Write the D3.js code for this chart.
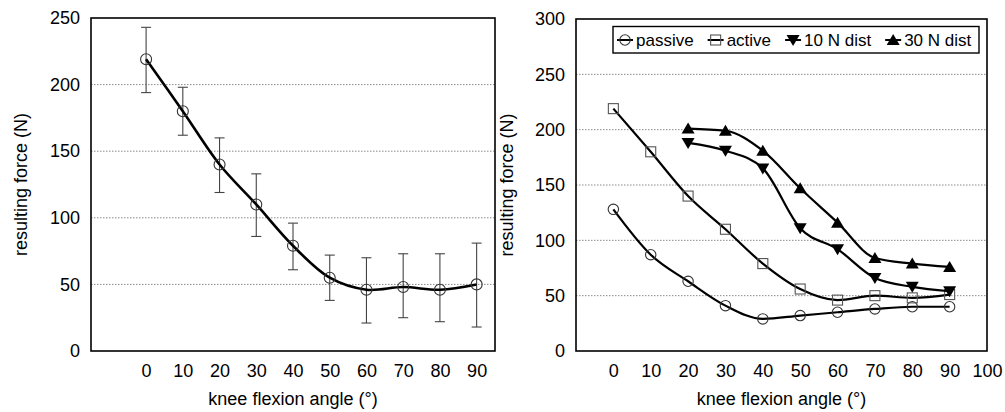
<!DOCTYPE html>
<html><head><meta charset="utf-8">
<script src="https://cdn.jsdelivr.net/npm/d3@7"></script>
<style>
body{margin:0;background:#fff;}
text{font-family:"Liberation Sans",Arial,sans-serif;fill:#000;}
</style></head>
<body>
<svg id="c" width="1005" height="412"></svg>
<script>
// ---- data ----
const angles = [0,10,20,30,40,50,60,70,80,90];
const meanForce = [219,180,140,110,79,55,46,48,46,50];
const errUpper = [243,198,160,133,96,72,70,73,73,81];
const errLower = [194,162,119,86,61,38,21,25,22,18];
const passive = [128,87,63,41,29,32,35,38,40,40];
const active = [219,180,140,110,79,56,46,50,48,51];
const distAngles = [20,30,40,50,60,70,80,90];
const dist10 = [188,181,165,111,92,66,58,54];
const dist30 = [201,199,181,147,116,84,79,76];
const leftYTicks = [0,50,100,150,200,250];
const rightYTicks = [0,50,100,150,200,250,300];
const rightXTicks = [0,10,20,30,40,50,60,70,80,90,100];
const legendLabels = ["passive","active","10 N dist","30 N dist"];
const yTitle = "resulting force (N)";
const xTitle = "knee flexion angle (°)";

const svg = d3.select("#c");
const FS = 18;

function panel(g, x, y, yTicks, xTicks) {
  const [x0,x1] = x.range(), [y0,y1] = y.range();
  g.append("g").selectAll("line").data(yTicks.slice(1,-1)).join("line")
    .attr("x1",x0).attr("x2",x1).attr("y1",d=>y(d)).attr("y2",d=>y(d))
    .attr("stroke","#8a8a8a").attr("stroke-width",1).attr("stroke-dasharray","1.5,1.5");
  const ya = g.append("g").attr("transform",`translate(${x0},0)`)
    .call(d3.axisLeft(y).tickValues(yTicks).tickSize(0).tickPadding(11));
  ya.select(".domain").remove();
  ya.selectAll("text").attr("font-size",FS).attr("font-family","Liberation Sans, Arial, sans-serif").attr("fill","#000");
  const xa = g.append("g").attr("transform",`translate(0,${y0})`)
    .call(d3.axisBottom(x).tickValues(xTicks).tickSize(0).tickPadding(13));
  xa.select(".domain").remove();
  xa.selectAll("text").attr("font-size",FS).attr("font-family","Liberation Sans, Arial, sans-serif").attr("fill","#000");
  g.append("rect").attr("x",x0).attr("y",y1).attr("width",x1-x0).attr("height",y0-y1)
    .attr("fill","none").attr("stroke","#000").attr("stroke-width",1.6);
  g.append("text").attr("x",(x0+x1)/2).attr("y",405).attr("text-anchor","middle")
    .attr("font-size",FS).text(xTitle);
}

// ---- left chart ----
const xL = d3.scaleLinear().domain([-15,95]).range([91,495]);
const yL = d3.scaleLinear().domain([0,250]).range([351,18]);
const gL = svg.append("g");
panel(gL, xL, yL, leftYTicks, angles);
gL.append("text").attr("transform",`translate(21,${(18+351)/2}) rotate(-90)`)
  .attr("text-anchor","middle").attr("dominant-baseline","central").attr("font-size",FS).text(yTitle);
const eb = gL.append("g").attr("stroke","#444").attr("stroke-width",1.1);
angles.forEach((a,i)=>{
  const cx = xL(a);
  eb.append("line").attr("x1",cx).attr("x2",cx).attr("y1",yL(errUpper[i])).attr("y2",yL(errLower[i]));
  eb.append("line").attr("x1",cx-5).attr("x2",cx+5).attr("y1",yL(errUpper[i])).attr("y2",yL(errUpper[i]));
  eb.append("line").attr("x1",cx-5).attr("x2",cx+5).attr("y1",yL(errLower[i])).attr("y2",yL(errLower[i]));
});
gL.append("path").datum(angles.map((a,i)=>[a,meanForce[i]]))
  .attr("d",d3.line().x(d=>xL(d[0])).y(d=>yL(d[1])).curve(d3.curveCatmullRom.alpha(0.5)))
  .attr("fill","none").attr("stroke","#000").attr("stroke-width",2.6);
gL.append("g").selectAll("circle").data(angles).join("circle")
  .attr("cx",d=>xL(d)).attr("cy",(d,i)=>yL(meanForce[i])).attr("r",5.5)
  .attr("fill","none").attr("stroke","#333").attr("stroke-width",1.1);

// ---- right chart ----
const xR = d3.scaleLinear().domain([-10,100]).range([576,987]);
const yR = d3.scaleLinear().domain([0,300]).range([351,19]);
const gR = svg.append("g");
panel(gR, xR, yR, rightYTicks, rightXTicks);
gR.append("text").attr("transform",`translate(507,${(19+351)/2}) rotate(-90)`)
  .attr("text-anchor","middle").attr("dominant-baseline","central").attr("font-size",FS).text(yTitle);

const lineR = d3.line().x(d=>xR(d[0])).y(d=>yR(d[1])).curve(d3.curveMonotoneX);
const seriesR = [
  {name:legendLabels[0], xs:angles, ys:passive, m:"circle"},
  {name:legendLabels[1], xs:angles, ys:active, m:"square"},
  {name:legendLabels[2], xs:distAngles, ys:dist10, m:"down"},
  {name:legendLabels[3], xs:distAngles, ys:dist30, m:"up"}
];
function marker(sel, type, cx, cy) {
  if (type==="circle") sel.append("circle").attr("cx",cx).attr("cy",cy).attr("r",5.2)
      .attr("fill","none").attr("stroke","#333").attr("stroke-width",1.1);
  else if (type==="square") sel.append("rect").attr("x",cx-5).attr("y",cy-5).attr("width",10).attr("height",10)
      .attr("fill","none").attr("stroke","#555").attr("stroke-width",1.1);
  else if (type==="down") sel.append("path").attr("d",`M${cx-6.5},${cy-5}L${cx+6.5},${cy-5}L${cx},${cy+6}Z`).attr("fill","#000");
  else sel.append("path").attr("d",`M${cx-6.5},${cy+5}L${cx+6.5},${cy+5}L${cx},${cy-6}Z`).attr("fill","#000");
}
seriesR.forEach(s=>{
  gR.append("path").datum(s.xs.map((a,i)=>[a,s.ys[i]])).attr("d",lineR)
    .attr("fill","none").attr("stroke","#000").attr("stroke-width",2.2);
  const mg = gR.append("g");
  s.xs.forEach((a,i)=>marker(mg, s.m, xR(a), yR(s.ys[i])));
});

// legend
const lg = gR.append("g");
lg.append("rect").attr("x",613).attr("y",26.5).attr("width",366).attr("height",26.5)
  .attr("fill","#fff").attr("stroke","#000").attr("stroke-width",1.4);
let cx = 625;
seriesR.forEach((s,i)=>{
  const cy = 40;
  lg.append("line").attr("x1",cx-8).attr("x2",cx+8).attr("y1",cy).attr("y2",cy).attr("stroke","#000").attr("stroke-width",2);
  marker(lg, s.m, cx, cy);
  const t = lg.append("text").attr("x",cx+11).attr("y",cy+6).attr("font-size",17).text(s.name);
  cx = cx + 11 + t.node().getComputedTextLength() + 22;
});
</script>
</body></html>
